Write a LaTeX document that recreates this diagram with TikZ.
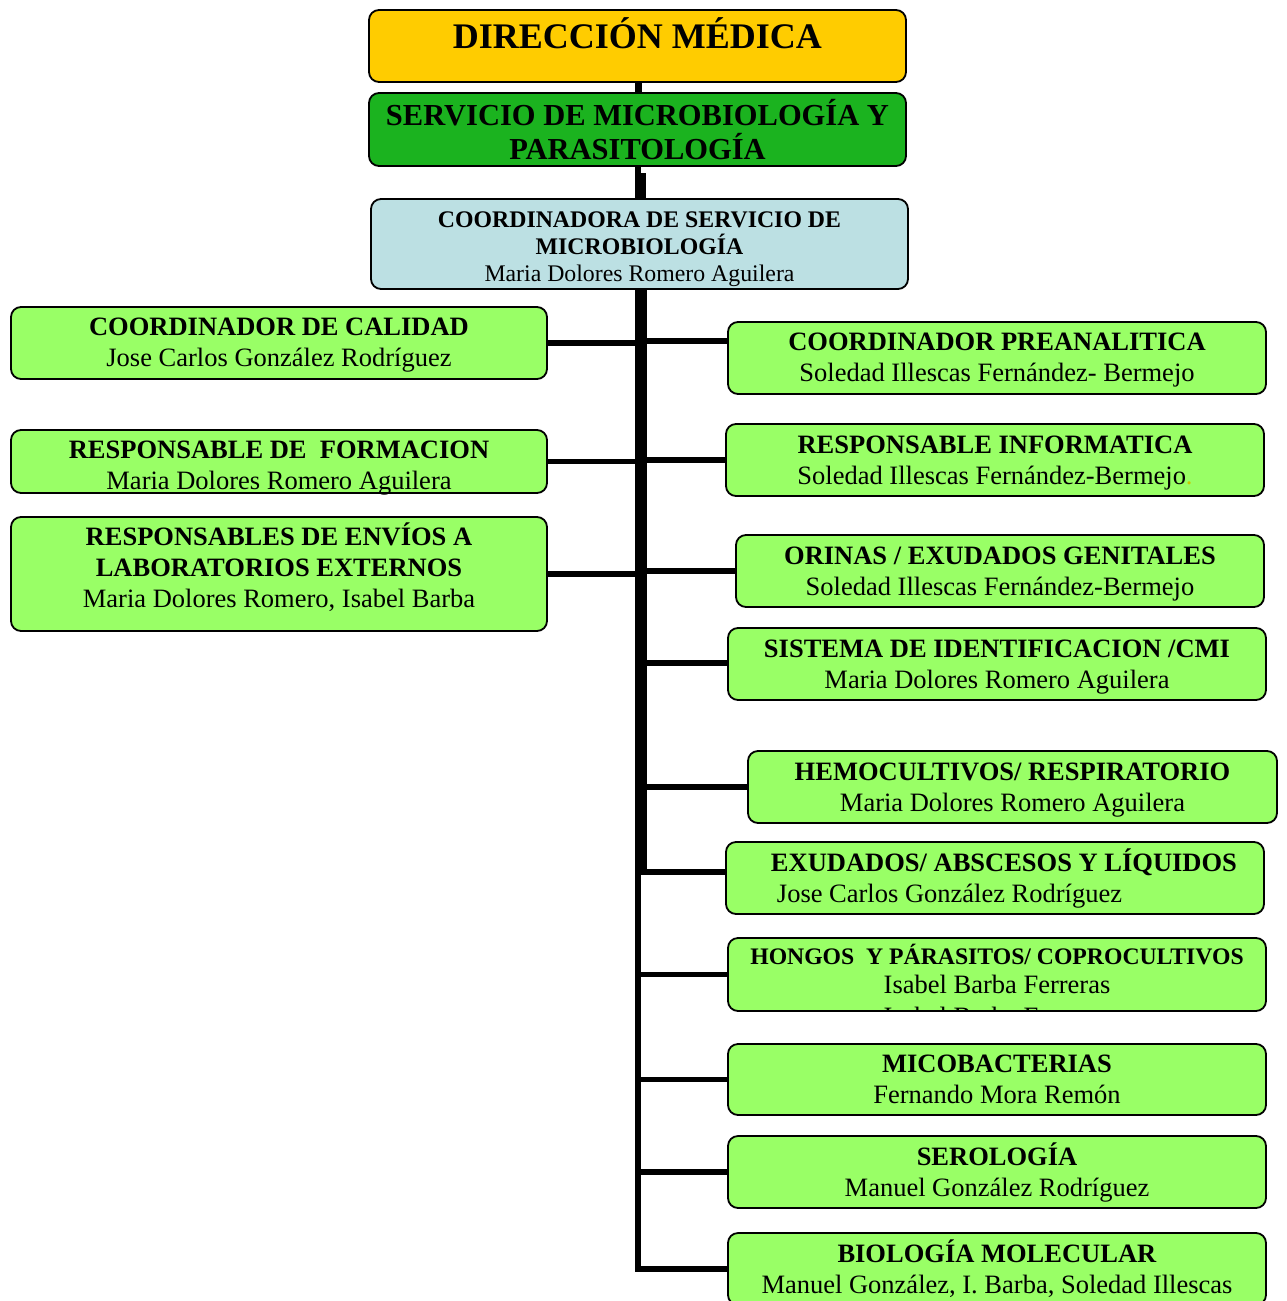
\documentclass[tikz,border=0pt]{standalone}
\usepackage{fontspec}
\setmainfont{Liberation Serif}
\definecolor{gold}{HTML}{FFCC00}
\definecolor{dgreen}{HTML}{1BB31F}
\definecolor{lgreen}{HTML}{99FF66}
\definecolor{lblue}{HTML}{BCE0E3}
\definecolor{dotc}{HTML}{C8C800}
\begin{document}
\begin{tikzpicture}[x=1pt,y=-1pt,
  box/.style={draw=black, line width=1.8pt, rounded corners=10pt, fill=lgreen,
    align=center, inner sep=0pt, font=\fontsize{26.5}{31}\selectfont},
  link/.style={draw=black, line width=5.5pt},
  trunk/.style={draw=black, line width=#1, line cap=butt}]
\useasboundingbox (0,0) rectangle (1287,1301);

% top hierarchy
\node[box, fill=gold, minimum width=537pt, minimum height=72pt, text depth=26pt,
  font=\bfseries\fontsize{36}{40}\selectfont] (dir) at (637.5,46) {DIRECCIÓN MÉDICA};
\node[box, fill=dgreen, minimum width=537pt, minimum height=73pt,
  font=\bfseries\fontsize{30.5}{34}\selectfont] (serv) at (637.5,129.5)
  {SERVICIO DE MICROBIOLOGÍA Y\\PARASITOLOGÍA};
\node[box, fill=lblue, minimum width=537pt, minimum height=90pt, text depth=0pt,
  font=\fontsize{23.8}{27}\selectfont] (coord) at (639.5,244)
  {\rule{0pt}{21.7pt}\textbf{COORDINADORA DE SERVICIO DE}\\\textbf{MICROBIOLOGÍA}\\Maria Dolores Romero Aguilera};

% left boxes
\node[box, minimum width=536pt, minimum height=72pt, text depth=1.5pt] (L1) at (279,343)
  {\textbf{COORDINADOR DE CALIDAD}\\Jose Carlos González Rodríguez};
\node[box, minimum width=536pt, minimum height=63pt, text depth=0pt] (L2) at (279,461.5)
  {\rule{0pt}{25.5pt}\textbf{RESPONSABLE DE\ \ FORMACION}\\Maria Dolores Romero Aguilera};
\node[box, minimum width=536pt, minimum height=114pt, text depth=18pt] (L3) at (279,574)
  {\textbf{RESPONSABLES DE ENVÍOS A}\\\textbf{LABORATORIOS EXTERNOS}\\Maria Dolores Romero, Isabel Barba};

% right boxes
\node[box, minimum width=538pt, minimum height=72pt, text depth=1.5pt] (R1) at (997,358)
  {\textbf{COORDINADOR PREANALITICA}\\Soledad Illescas Fernández- Bermejo};
\node[box, minimum width=538pt, minimum height=72pt, text depth=0pt] (R2) at (995,460)
  {\textbf{RESPONSABLE INFORMATICA}\\Soledad Illescas Fernández-Bermejo{\color{dotc}.}};
\node[box, minimum width=528pt, minimum height=72pt, text depth=0pt] (R3) at (1000,571)
  {\textbf{ORINAS / EXUDADOS GENITALES}\\Soledad Illescas Fernández-Bermejo};
\node[box, minimum width=538pt, minimum height=72pt, text depth=0pt] (R4) at (997,664)
  {\textbf{SISTEMA DE IDENTIFICACION /CMI}\\Maria Dolores Romero Aguilera};
\node[box, minimum width=529pt, minimum height=72pt, text depth=0pt] (R5) at (1012.5,787)
  {\textbf{HEMOCULTIVOS/ RESPIRATORIO}\\Maria Dolores Romero Aguilera};
\node[box, minimum width=538pt, minimum height=72pt, align=left] (R6) at (995,878)
  {\hspace*{18pt}\textbf{EXUDADOS/ ABSCESOS Y LÍQUIDOS}\\\hspace*{24pt}Jose Carlos González Rodríguez};
\node[box, minimum width=538pt, minimum height=73pt, text depth=12pt,
  font=\fontsize{26.5}{29}\selectfont] (R7) at (997,974.5)
  {{\bfseries\fontsize{23.7}{29}\selectfont HONGOS\ \ Y PÁRASITOS/ COPROCULTIVOS}\\Isabel Barba Ferreras};
\begin{scope}
  \clip (729,939) rectangle (1265,1010);
  \node[font=\fontsize{26.5}{31}\selectfont, inner sep=0pt] (R7x) at (997,1016) {Isabel Barba Ferreras};
\end{scope}
\node[box, minimum width=538pt, minimum height=71pt] (R8) at (997,1079.5)
  {\textbf{MICOBACTERIAS}\\Fernando Mora Remón};
\node[box, minimum width=538pt, minimum height=72pt] (R9) at (997,1172)
  {\textbf{SEROLOGÍA}\\Manuel González Rodríguez};
\node[box, minimum width=538pt, minimum height=72pt] (R10) at (997,1269)
  {\textbf{BIOLOGÍA MOLECULAR}\\Manuel González, I. Barba, Soledad Illescas};

% trunk
\coordinate (a1) at (638,0);
\coordinate (a2) at (640.5,173);
\coordinate (a3) at (641,0);
\coordinate (a4) at (638,865);
\coordinate (j6) at (641,875);
\draw[trunk=7pt] (dir.south -| a1) -- (serv.north -| a1);
\draw[trunk=6pt] (serv.south -| a1) -- ++(0,9);
\draw[trunk=11pt] (a2) -- (coord.north -| a2);
\draw[trunk=12pt] (coord.south -| a3) -- (j6);

% left links
\draw[link] (L1.east) -- (L1.east -| a3);
\draw[link] (L2.east) -- (L2.east -| a3);
\draw[link] (L3.east) -- (L3.east -| a3);

% right links
\coordinate (c1) at ([yshift=17pt]R1.west);
\coordinate (c4) at ([yshift=1pt]R4.west);
\coordinate (c6) at ([yshift=6pt]R6.west);
\draw[link] (c1 -| a3) -- (c1);
\draw[link] (R2.west -| a3) -- (R2.west);
\draw[link] (R3.west -| a3) -- (R3.west);
\draw[link] (c4 -| a3) -- (c4);
\draw[link] (R5.west -| a3) -- (R5.west);
\draw[link] (c6 -| a3) -- (c6);
\draw[link] (R7.west -| a1) -- (R7.west);
\draw[link] (R8.west -| a1) -- (R8.west);
\draw[link] (R9.west -| a1) -- (R9.west);
\draw[trunk=6pt, line join=miter] (a4) -- (a4 |- R10.west) -- (R10.west);
\end{tikzpicture}
\end{document}
